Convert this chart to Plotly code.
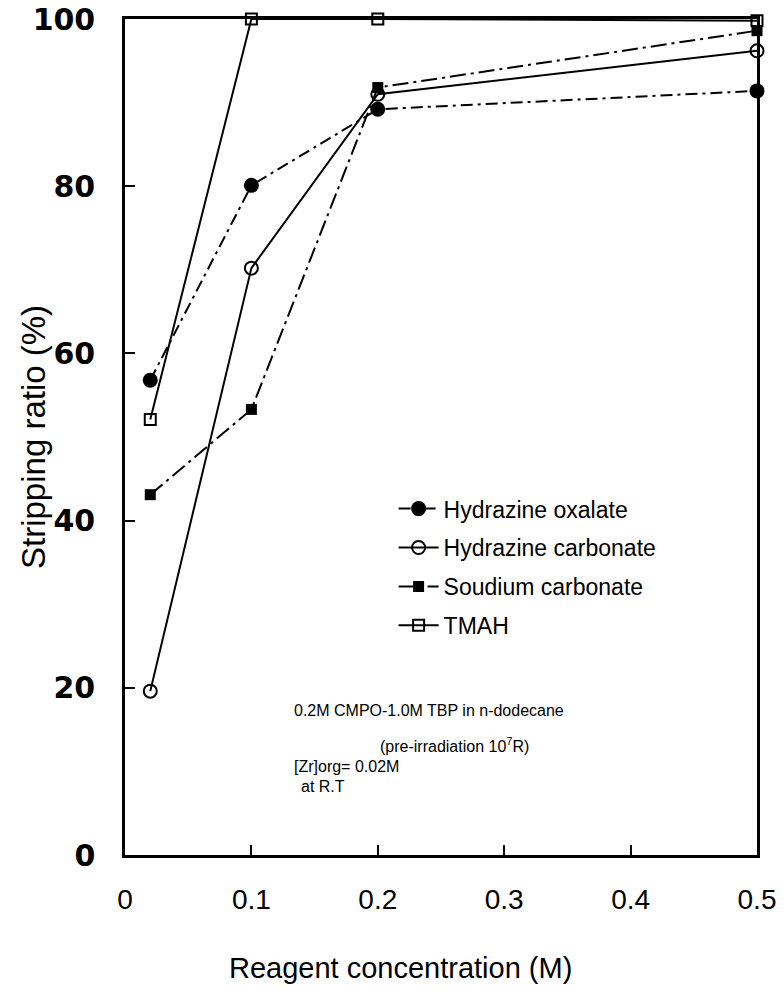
import plotly.graph_objects as go

conc = [0.02, 0.1, 0.2, 0.5]
hydrazine_oxalate = [56.8, 80.1, 89.2, 91.4]
hydrazine_carbonate = [19.6, 70.2, 91.0, 96.2]
sodium_carbonate = [43.1, 53.3, 91.8, 98.6]
tmah = [52.1, 100.0, 100.0, 99.8]

series_names = ["Hydrazine oxalate", "Hydrazine carbonate", "Soudium carbonate", "TMAH"]
x_ticks = [0, 0.1, 0.2, 0.3, 0.4, 0.5]
x_tick_labels = ["0", "0.1", "0.2", "0.3", "0.4", "0.5"]
y_ticks = [0, 20, 40, 60, 80, 100]
y_tick_labels = ["0", "20", "40", "60", "80", "100"]

FONT = "Liberation Sans, Arial, sans-serif"

fig = go.Figure()
styles = [
    (hydrazine_oxalate, dict(symbol="circle", size=15, color="black"), "12px,5px,3px,5px"),
    (hydrazine_carbonate, dict(symbol="circle-open", size=13, color="black", line=dict(width=2)), "solid"),
    (sodium_carbonate, dict(symbol="square", size=11, color="black"), "16px,5px,3px,5px"),
    (tmah, dict(symbol="square-open", size=11, color="black", line=dict(width=2)), "solid"),
]
for i, (vals, marker, dash) in enumerate(styles):
    fig.add_trace(go.Scatter(
        x=conc, y=vals, name=series_names[i], mode="lines+markers",
        line=dict(color="black", width=2, dash=dash),
        marker=marker, cliponaxis=False, legendgroup=f"g{i}",
    ))

axis_common = dict(
    showline=True, linecolor="black", linewidth=2.5, mirror=True,
    ticks="inside", ticklen=10, tickwidth=2, tickcolor="black",
    showgrid=False, zeroline=False, ticklabeloverflow="allow", automargin=False,
)
fig.update_xaxes(range=[0, 0.5], tickvals=x_ticks, ticktext=x_tick_labels,
                 tickfont=dict(family=FONT, size=28, color="black"),
                 ticklabelstandoff=18, **axis_common)
fig.update_yaxes(range=[0, 100], tickvals=y_ticks, ticktext=y_tick_labels,
                 tickfont=dict(family="DejaVu Sans, sans-serif", size=30, color="black",
                               weight="bold"),
                 ticklabelstandoff=21, **axis_common)

fig.update_layout(
    width=784, height=1002,
    margin=dict(l=125, r=27, t=19, b=147),
    paper_bgcolor="white", plot_bgcolor="white",
    showlegend=True,
    legend=dict(x=0.425, y=0.44, xanchor="left", yanchor="top",
                font=dict(family=FONT, size=23, color="black"),
                tracegroupgap=6, bgcolor="rgba(0,0,0,0)", itemwidth=40),
    annotations=[
        dict(text="Reagent concentration (M)", xref="paper", yref="paper",
             x=(400 - 125) / 632, y=-(968 - 855) / 836, showarrow=False,
             font=dict(family=FONT, size=29, color="black"), xanchor="center", yanchor="middle"),
        dict(text="Stripping ratio (%)", xref="paper", yref="paper",
             x=-(125 - 33) / 632, y=0.5, showarrow=False, textangle=-90,
             font=dict(family=FONT, size=33, color="black"), xanchor="center", yanchor="middle"),
        dict(text="0.2M CMPO-1.0M TBP in n-dodecane", xref="paper", yref="paper",
             x=(292 - 125) / 632, y=(855 - 710) / 836, showarrow=False,
             font=dict(family=FONT, size=16, color="black"), xanchor="left", yanchor="middle"),
        dict(text="(pre-irradiation 10<sup>7</sup>R)", xref="paper", yref="paper",
             x=(378 - 125) / 632, y=(855 - 745) / 836, showarrow=False,
             font=dict(family=FONT, size=16, color="black"), xanchor="left", yanchor="middle"),
        dict(text="[Zr]org= 0.02M", xref="paper", yref="paper",
             x=(292 - 125) / 632, y=(855 - 766) / 836, showarrow=False,
             font=dict(family=FONT, size=16, color="black"), xanchor="left", yanchor="middle"),
        dict(text="at R.T", xref="paper", yref="paper",
             x=(299 - 125) / 632, y=(855 - 786) / 836, showarrow=False,
             font=dict(family=FONT, size=16, color="black"), xanchor="left", yanchor="middle"),
    ],
)

fig.write_html("out.html")
